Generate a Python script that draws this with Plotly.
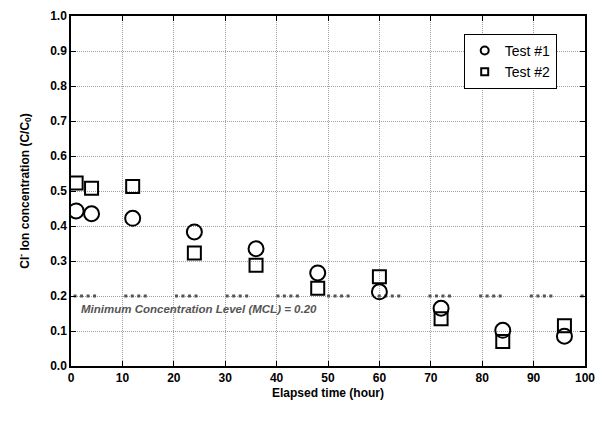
import plotly.graph_objects as go

time1 = [1, 4, 12, 24, 36, 48, 60, 72, 84, 96]
test1 = [0.443, 0.435, 0.422, 0.383, 0.335, 0.266, 0.212, 0.165, 0.102, 0.085]
time2 = [1, 4, 12, 24, 36, 48, 60, 72, 84, 96]
test2 = [0.523, 0.508, 0.513, 0.323, 0.288, 0.222, 0.255, 0.135, 0.070, 0.115]
mcl_x = [0.5, 100]
mcl_y = [0.2, 0.2]
mcl_text = "Minimum Concentration Level (MCL) = 0.20"
names = ["Test #1", "Test #2"]

FONT = "Liberation Sans, Arial"

fig = go.Figure()
fig.add_trace(go.Scatter(x=mcl_x, y=mcl_y, mode="lines", showlegend=False,
                         line=dict(color="#555555", width=3,
                                   dash="3px,3.5px,3px,3.5px,3px,3.5px,3px,28.2px"),
                         hoverinfo="skip"))
fig.add_trace(go.Scatter(x=time1, y=test1, mode="markers", name=names[0], showlegend=False,
                         marker=dict(symbol="circle-open", size=15, color="black",
                                     line=dict(width=2, color="black"))))
fig.add_trace(go.Scatter(x=time2, y=test2, mode="markers", name=names[1], showlegend=False,
                         marker=dict(symbol="square-open", size=13, color="black",
                                     line=dict(width=2, color="black"))))
# legend entries with smaller symbols, as in the reference
fig.add_trace(go.Scatter(x=[None], y=[None], mode="markers", name=names[0],
                         marker=dict(symbol="circle-open", size=8, color="black",
                                     line=dict(width=2, color="black"))))
fig.add_trace(go.Scatter(x=[None], y=[None], mode="markers", name=names[1],
                         marker=dict(symbol="square-open", size=7, color="black",
                                     line=dict(width=2, color="black"))))

fig.add_annotation(x=1.5, y=0.163, xref="x", yref="y", xanchor="left", yanchor="middle",
                   text="<b><i>" + mcl_text + "</i></b>", showarrow=False,
                   font=dict(family=FONT, size=11.5, color="#555555"))

axis_common = dict(showline=True, linecolor="black", linewidth=1.5, mirror="ticks",
                   ticks="inside", ticklen=5, tickcolor="black", tickwidth=1,
                   showgrid=True, gridcolor="#a0a0a0", gridwidth=1, griddash="1px,1px",
                   zeroline=False, ticklabeloverflow="allow",
                   tickfont=dict(family=FONT, size=12, color="black"))

fig.update_xaxes(range=[0, 100], dtick=10, tickformat="d",
                 title=dict(text="<b>Elapsed time (hour)</b>", standoff=4,
                            font=dict(family=FONT, size=12, color="black")),
                 **axis_common)
fig.update_yaxes(range=[0, 1.0], dtick=0.1, tickformat=".1f",
                 title=dict(text="<b>Cl<sup>-</sup> Ion concentration (C/C<sub>0</sub>)</b>", standoff=18,
                            font=dict(family=FONT, size=12, color="black")),
                 **axis_common)

fig.update_layout(
    width=605, height=413,
    margin=dict(l=63, r=28, t=1, b=55),
    plot_bgcolor="white", paper_bgcolor="white",
    font=dict(family=FONT, color="black"),
    legend=dict(x=0.764, y=0.949, xanchor="left", yanchor="top",
                bgcolor="white", bordercolor="black", borderwidth=1,
                font=dict(family=FONT, size=14, color="black"),
                tracegroupgap=0, itemwidth=30),
)

fig.update_xaxes(tickprefix="<b>", ticksuffix="</b>")
fig.update_yaxes(tickprefix="<b>", ticksuffix="</b>")

fig.write_html("out.html")
